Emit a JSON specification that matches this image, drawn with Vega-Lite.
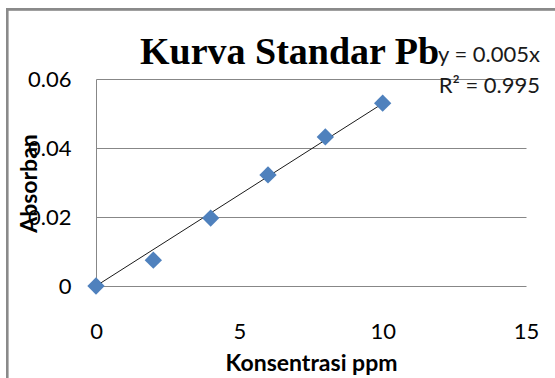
{
  "$schema": "https://vega.github.io/schema/vega-lite/v6.json",
  "autosize": {"type": "none"},
  "padding": {"left": 96, "top": 79, "right": 29, "bottom": 92},
  "width": 430,
  "height": 207,
  "background": "#ffffff",
  "config": {"view": {"stroke": null}},
  "title": {
    "text": "Kurva Standar Pb",
    "font": "Liberation Serif",
    "fontWeight": "bold",
    "fontSize": 38,
    "color": "#000000",
    "anchor": "start",
    "frame": "group",
    "dx": 44,
    "dy": 108,
    "baseline": "alphabetic",
    "offset": 14
  },
  "datasets": {
    "points": [
      {"konsentrasi": 0, "absorban": 0},
      {"konsentrasi": 2, "absorban": 0.0075},
      {"konsentrasi": 4, "absorban": 0.0197},
      {"konsentrasi": 6, "absorban": 0.0322},
      {"konsentrasi": 8, "absorban": 0.0432},
      {"konsentrasi": 10, "absorban": 0.053}
    ],
    "trend": [
      {"konsentrasi": 0, "absorban": 0},
      {"konsentrasi": 10, "absorban": 0.0529}
    ],
    "labels": [
      {"konsentrasi": 15.49, "absorban": 0.0649, "label": "y = 0.005x"},
      {"konsentrasi": 15.49, "absorban": 0.0559, "label": "R² = 0.995"}
    ]
  },
  "layer": [
    {
      "data": {"name": "points"},
      "mark": {"type": "rect", "filled": false, "stroke": "#8a8a8a", "strokeWidth": 2, "clip": false},
      "encoding": {
        "x": {"datum": -3.1, "type": "quantitative", "scale": {"domain": [0, 15], "nice": false}},
        "x2": {"datum": 16.5},
        "y": {"datum": 0.0802, "type": "quantitative", "scale": {"domain": [0, 0.06], "nice": false}},
        "y2": {"datum": -0.04}
      }
    },
    {
      "data": {"name": "trend"},
      "mark": {"type": "line", "color": "#1a1a1a", "strokeWidth": 1, "clip": false},
      "encoding": {
        "x": {
          "field": "konsentrasi",
          "type": "quantitative",
          "scale": {"domain": [0, 15], "nice": false},
          "axis": {
            "title": "Konsentrasi ppm",
            "values": [0, 5, 10, 15],
            "format": "d",
            "grid": false,
            "domain": false,
            "ticks": false,
            "tickSize": 0,
            "labelFlush": false,
            "labelFont": "Lato",
            "labelFontSize": 22,
            "labelColor": "#000000",
            "labelPadding": 35,
            "labelBaseline": "top",
            "titleFont": "Lato",
            "titleFontSize": 23,
            "titleFontWeight": "bold",
            "titleColor": "#000000",
            "titleBaseline": "alphabetic",
            "titleY": 84
          }
        },
        "y": {
          "field": "absorban",
          "type": "quantitative",
          "scale": {"domain": [0, 0.06], "nice": false},
          "axis": {
            "title": "Absorban",
            "values": [0, 0.02, 0.04, 0.06],
            "format": ".2~f",
            "grid": true,
            "gridColor": "#878787",
            "gridWidth": 1,
            "gridOpacity": 1,
            "domain": true,
            "domainColor": "#878787",
            "domainWidth": 1,
            "ticks": false,
            "tickSize": 0,
            "labelFlush": false,
            "labelFont": "Lato",
            "labelFontSize": 22,
            "labelColor": "#000000",
            "labelPadding": 25,
            "titleFont": "Lato",
            "titleFontSize": 23,
            "titleFontWeight": "bold",
            "titleColor": "#000000",
            "titleBaseline": "alphabetic",
            "titleAngle": 270,
            "titleX": -60,
            "titleY": 104
          }
        }
      }
    },
    {
      "data": {"name": "points"},
      "mark": {"type": "point", "shape": "diamond", "filled": true, "size": 300, "color": "#4F81BD", "opacity": 1, "clip": false},
      "encoding": {
        "x": {"field": "konsentrasi", "type": "quantitative"},
        "y": {"field": "absorban", "type": "quantitative"}
      }
    },
    {
      "data": {"name": "labels"},
      "mark": {"type": "text", "align": "right", "baseline": "alphabetic", "font": "Lato", "fontSize": 22, "color": "#1a1a1a", "clip": false},
      "encoding": {
        "x": {"field": "konsentrasi", "type": "quantitative"},
        "y": {"field": "absorban", "type": "quantitative"},
        "text": {"field": "label"}
      }
    }
  ]
}
